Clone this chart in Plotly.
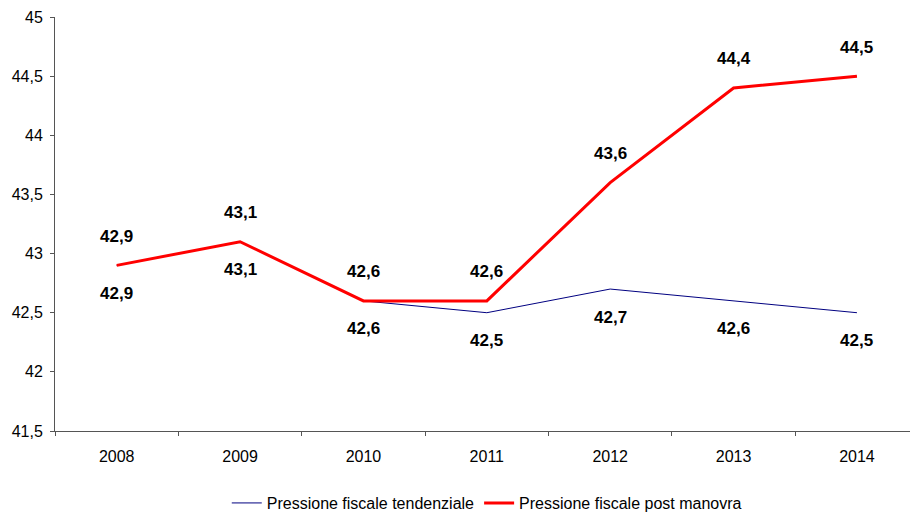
import plotly.graph_objects as go

years = ["2008", "2009", "2010", "2011", "2012", "2013", "2014"]
tendenziale = [42.9, 43.1, 42.6, 42.5, 42.7, 42.6, 42.5]
post_manovra = [42.9, 43.1, 42.6, 42.6, 43.6, 44.4, 44.5]
y_ticks = [41.5, 42, 42.5, 43, 43.5, 44, 44.5, 45]
y_tick_labels = ["41,5", "42", "42,5", "43", "43,5", "44", "44,5", "45"]

def fmt(v):
    return f"{v:.1f}".replace(".", ",")

fig = go.Figure()
fig.add_trace(go.Scatter(x=years, y=tendenziale, mode="lines",
                         name="Pressione fiscale tendenziale",
                         line=dict(color="#000080", width=1)))
fig.add_trace(go.Scatter(x=years, y=post_manovra, mode="lines",
                         name="Pressione fiscale post manovra",
                         line=dict(color="#FF0000", width=3)))

label_font = dict(family="Liberation Sans, Arial, sans-serif", size=17, color="black")
# category axis: annotations positioned by category serial number
for i, v in enumerate(tendenziale):
    fig.add_annotation(x=i, y=v, xref="x", yref="y", text="<b>" + fmt(v) + "</b>",
                       showarrow=False, yshift=-28, font=label_font)
for i, v in enumerate(post_manovra):
    fig.add_annotation(x=i, y=v, xref="x", yref="y", text="<b>" + fmt(v) + "</b>",
                       showarrow=False, yshift=29, font=label_font)

fig.update_layout(
    width=910, height=516,
    margin=dict(l=55, r=0, t=17, b=85, autoexpand=False),
    paper_bgcolor="white", plot_bgcolor="white",
    font=dict(family="Liberation Sans, Arial, sans-serif", size=16, color="black"),
    showlegend=True,
    legend=dict(orientation="h", x=0.505, xanchor="center", y=-0.174, yanchor="middle",
                font=dict(size=16), itemwidth=30, tracegroupgap=0),
)
fig.update_xaxes(type="category", range=[-0.5, 6.43], showline=True, linecolor="#555555",
                 linewidth=1, ticks="outside", ticklen=4, tickcolor="#555555",
                 tickson="boundaries", showgrid=False, zeroline=False,
                 ticklabelstandoff=11)
fig.update_yaxes(range=[41.5, 45], tickvals=y_ticks, ticktext=y_tick_labels,
                 showline=True, linecolor="#555555", linewidth=1, ticks="outside",
                 ticklen=4, tickcolor="#555555", showgrid=False, zeroline=False,
                 ticklabelstandoff=4)

fig.write_html("out.html", config={"displayModeBar": False},
               post_script="document.body.style.margin='0';")
